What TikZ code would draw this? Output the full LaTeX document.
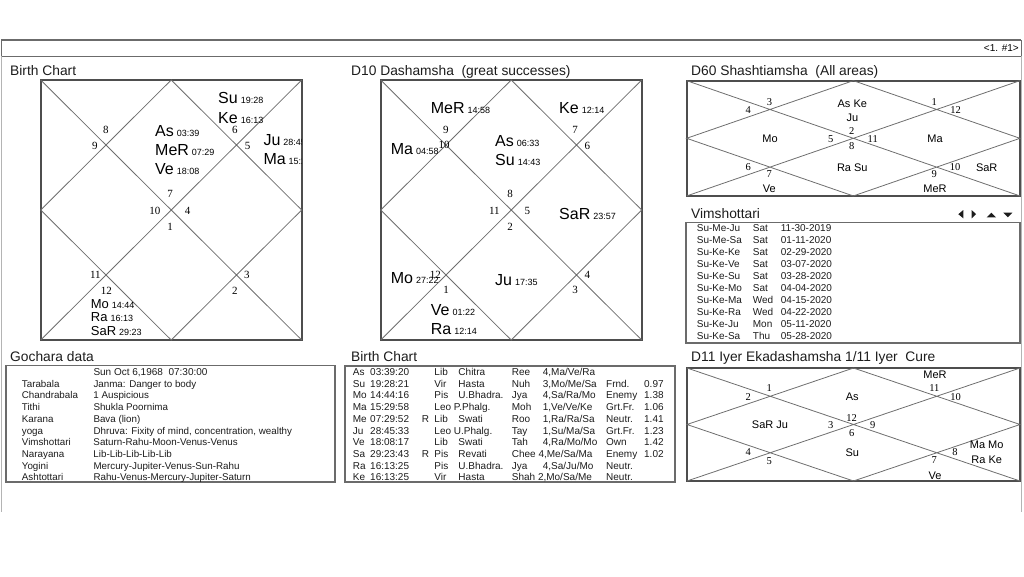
\documentclass[tikz,border=0pt]{standalone}
\usepackage{fontspec}
\setmainfont{Liberation Sans}
\newfontfamily\housefont{Liberation Serif}
\usetikzlibrary{positioning}
\definecolor{KLine}{HTML}{6E6E6E}
\definecolor{KFrame}{HTML}{4E4E4E}
\definecolor{KBox}{HTML}{6B6B6B}
\definecolor{KText}{HTML}{1C1C1C}
\definecolor{KEdge}{HTML}{B4B4B4}
% planet with degree in small figures
\newcommand{\planet}[3][16]{{\fontsize{#1}{#1}\selectfont #2}\hspace{3pt}{\fontsize{9}{9}\selectfont #3}}
% table rows with fixed columns
\newcommand{\gline}[2]{\makebox[71.6pt][l]{#1}#2}
\newcommand{\vrow}[3]{\makebox[56pt][l]{#1}\makebox[28pt][l]{#2}#3}
\newcommand{\brow}[9]{\makebox[17.3pt][l]{#1}\makebox[51.7pt][l]{#2}\makebox[12.6pt][l]{#3}\makebox[24pt][l]{#4}\makebox[53.4pt][l]{#5}\makebox[31pt][l]{#6}\makebox[63.3pt][l]{#7}\makebox[38pt][l]{#8}#9}

\begin{document}
\begin{tikzpicture}[x=1pt,y=-1pt,
 hdr/.style={anchor=base west,inner sep=0pt,text=KText,font=\fontsize{13.8}{15}\selectfont},
 kundli/.style={draw=KFrame,line width=2pt,inner sep=0pt,outer sep=0pt},
 kline/.style={draw=KLine,line width=0.8pt},
 hnum/.style={inner sep=0pt,font=\housefont\fontsize{11}{11}\selectfont},
 hsml/.style={inner sep=0pt,font=\housefont\fontsize{10.5}{10.5}\selectfont},
 graha/.style={anchor=west,inner sep=0pt,text depth=0pt},
 gsml/.style={inner sep=0pt,text depth=0pt,font=\fontsize{11}{11}\selectfont},
 tbox/.style={draw=KBox,line width=1.2pt,inner sep=0pt,outer sep=0pt,anchor=north west},
 trow/.style={anchor=base west,inner sep=0pt,text=KText,font=\fontsize{10}{10}\selectfont}
]
\useasboundingbox (0,0) rectangle (1024,576);

% top strip
\node[draw=KBox,line width=0.8pt,inner sep=0pt,outer sep=0pt,anchor=north west,minimum width=1020pt,minimum height=16pt] (strip) at (1,40) {};
\draw[KBox,line width=1.6pt] (strip.north west) -- (strip.north east);
\node[anchor=east,inner sep=0pt,font=\fontsize{10}{10}\selectfont] (page) at ([xshift=-2pt]strip.east) {<1. \#1>};
\draw[KEdge,line width=0.8pt] (strip.south west) -- ++(0,456) (strip.south east) -- ++(0,456);

% titles
\node[hdr] (tRasi) at (10,75) {Birth Chart};
\node[hdr] (tDasa) at (351,75) {D10 Dashamsha\ \ (great successes)};
\node[hdr] (tShas) at (691,75) {D60 Shashtiamsha\ \ (All areas)};
\node[hdr] (tVim) at (691,218.3) {Vimshottari};
\node[hdr] (tGoc) at (10,361) {Gochara data};
\node[hdr] (tTab) at (351,361) {Birth Chart};
\node[hdr] (tEka) at (691,361) {D11 Iyer Ekadashamsha 1/11 Iyer\ \ Cure};

% birth chart
\node[kundli,minimum width=261pt,minimum height=260pt] (rasi) at (171.2,210) {};
\draw[kline] (rasi.north west) -- (rasi.south east) (rasi.north east) -- (rasi.south west)
  (rasi.north) -- (rasi.east) -- (rasi.south) -- (rasi.west) -- cycle;
\begin{scope}
\clip (rasi.north west) rectangle (rasi.south east);
\foreach \g/\d/\x/\y/\s in {Su/19:28/218/97.7/16, Ke/16:13/218/117.7/16, As/03:39/155/130.7/16,
  MeR/07:29/155/150/16, Ve/18:08/155/169.3/16, Ju/28:45/263.3/140/16, Ma/15:29/263.3/159.3/16,
  Mo/14:44/90.7/304/13, Ra/16:13/90.7/317.3/13, SaR/29:23/90.7/330.7/13}
  \node[graha] (rasi\g) at (\x,\y) {\planet[\s]{\g}{\d}};
\end{scope}
\foreach \n/\x/\y in {8/105.8/130.3, 9/94.8/146.3, 6/234.8/130, 5/247.5/146, 7/170.2/194,
  10/154.8/210.7, 4/187.5/210.7, 1/170/226.7, 11/95.3/275, 3/246.8/275, 12/106.3/290.7, 2/234.8/290.7}
  \node[hnum] (rasiH\n) at (\x,\y) {\n};

% D10
\node[kundli,minimum width=261pt,minimum height=260pt] (dasa) at (511.2,210) {};
\draw[kline] (dasa.north west) -- (dasa.south east) (dasa.north east) -- (dasa.south west)
  (dasa.north) -- (dasa.east) -- (dasa.south) -- (dasa.west) -- cycle;
\foreach \g/\d/\x/\y in {MeR/14:58/430.7/108.3, Ke/12:14/559/108.3, Ma/04:58/390.7/149.3,
  As/06:33/495/140.7, Su/14:43/495/160, SaR/23:57/559/214, Mo/27:22/390.7/278.3,
  Ju/17:35/495/280, Ve/01:22/430.7/310, Ra/12:14/430.7/329.3}
  \node[graha] (dasa\g) at (\x,\y) {\planet{\g}{\d}};
\foreach \n/\x/\y in {9/445.8/130, 7/575/130, 10/444/145, 6/587.3/146, 8/510/194, 11/494.3/210.7,
  5/527.3/210.7, 2/510/226.7, 12/435.3/275, 4/587.3/275, 1/446/290, 3/575/290}
  \node[hnum] (dasaH\n) at (\x,\y) {\n};

% D60
\node[kundli,minimum width=333.3pt,minimum height=115.3pt] (shas) at (853.3,138.3) {};
\draw[kline] (shas.north west) -- (shas.south east) (shas.north east) -- (shas.south west)
  (shas.north) -- (shas.east) -- (shas.south) -- (shas.west) -- cycle;
\node[gsml] (shasAs) at (852.3,103.3) {As Ke};
\node[gsml] (shasJu) at (852.3,117.3) {Ju};
\node[gsml] (shasMo) at (770,139) {Mo};
\node[gsml] (shasMa) at (935,139) {Ma};
\node[gsml] (shasRa) at (852.3,167.3) {Ra Su};
\node[gsml] (shasSa) at (986.7,167.3) {SaR};
\node[gsml] (shasVe) at (769.3,189) {Ve};
\node[gsml] (shasMe) at (935,189) {MeR};
\foreach \n/\x/\y in {3/769.5/101.7, 4/748.3/110, 1/934.3/101.7, 12/955.5/110, 2/851.7/130.7,
  5/830.7/139, 11/872.7/139, 8/851.7/146, 6/748.3/167.3, 7/769.3/174, 10/955/167.3, 9/934.3/174}
  \node[hsml] (shasH\n) at (\x,\y) {\n};

% Vimshottari
\fill[KText] (958.3,214.2) -- (963.3,210) -- (963.3,218.3) -- cycle
  (971.7,210) -- (976,214.2) -- (971.7,218.3) -- cycle
  (986.7,217.3) -- (991.3,212.7) -- (996,217.3) -- cycle
  (1003.3,212.7) -- (1012.3,212.7) -- (1007.8,217.3) -- cycle;
\node[tbox,minimum width=334pt,minimum height=120.3pt] (vim) at (686,222.7) {};
\foreach \a/\b/\c [count=\i] in {Su-Me-Ju/Sat/11-30-2019, Su-Me-Sa/Sat/01-11-2020, Su-Ke-Ke/Sat/02-29-2020,
  Su-Ke-Ve/Sat/03-07-2020, Su-Ke-Su/Sat/03-28-2020, Su-Ke-Mo/Sat/04-04-2020, Su-Ke-Ma/Wed/04-15-2020,
  Su-Ke-Ra/Wed/04-22-2020, Su-Ke-Ju/Mon/05-11-2020, Su-Ke-Sa/Thu/05-28-2020}
  \node[trow] (vim\i) at (696.7,{219.7+11.96*\i}) {\vrow{\a}{\b}{\c}};

% Gochara data
\node[tbox,minimum width=329pt,minimum height=116.3pt] (goc) at (6,365.7) {};
\node[trow] (goc0) at (21.7,375.5) {\gline{}{Sun Oct 6,1968\ \ 07:30:00}};
\foreach \a/\b [count=\i] in {Tarabala/{Janma: Danger to body}, Chandrabala/{1 Auspicious},
  Tithi/{Shukla Poornima}, Karana/{Bava (lion)}, yoga/{Dhruva: Fixity of mind, concentration, wealthy},
  Vimshottari/{Saturn-Rahu-Moon-Venus-Venus}, Narayana/{Lib-Lib-Lib-Lib-Lib},
  Yogini/{Mercury-Jupiter-Venus-Sun-Rahu}, Ashtottari/{Rahu-Venus-Mercury-Jupiter-Saturn}}
  \node[trow,font=\fontsize{9.8}{10}\selectfont] (goc\i) at (21.7,{375.5+11.7*\i}) {\gline{\a}{\b}};

% Birth chart table
\node[tbox,minimum width=330pt,minimum height=116pt] (tab) at (345,366) {};
\node[trow] (tab1) at (352.7,375.5) {\brow{As}{03:39:20}{}{Lib}{Chitra}{Ree}{4,Ma/Ve/Ra}{}{}};
\node[trow] (tab2) at (352.7,387.2) {\brow{Su}{19:28:21}{}{Vir}{Hasta}{Nuh}{3,Mo/Me/Sa}{Frnd.}{0.97}};
\node[trow] (tab3) at (352.7,398.9) {\brow{Mo}{14:44:16}{}{Pis}{U.Bhadra.}{Jya}{4,Sa/Ra/Mo}{Enemy}{1.38}};
\node[trow] (tab4) at (352.7,410.6) {\brow{Ma}{15:29:58}{}{Leo P.Phalg.}{}{Moh}{1,Ve/Ve/Ke}{Grt.Fr.}{1.06}};
\node[trow] (tab5) at (352.7,422.3) {\brow{Me}{07:29:52}{R}{Lib}{Swati}{Roo}{1,Ra/Ra/Sa}{Neutr.}{1.41}};
\node[trow] (tab6) at (352.7,434.0) {\brow{Ju}{28:45:33}{}{Leo U.Phalg.}{}{Tay}{1,Su/Ma/Sa}{Grt.Fr.}{1.23}};
\node[trow] (tab7) at (352.7,445.7) {\brow{Ve}{18:08:17}{}{Lib}{Swati}{Tah}{4,Ra/Mo/Mo}{Own}{1.42}};
\node[trow] (tab8) at (352.7,457.4) {\brow{Sa}{29:23:43}{R}{Pis}{Revati}{Chee 4,Me/Sa/Ma}{}{Enemy}{1.02}};
\node[trow] (tab9) at (352.7,469.1) {\brow{Ra}{16:13:25}{}{Pis}{U.Bhadra.}{Jya}{4,Sa/Ju/Mo}{Neutr.}{}};
\node[trow] (tab10) at (352.7,480.8) {\brow{Ke}{16:13:25}{}{Vir}{Hasta}{Shah 2,Mo/Sa/Me}{}{Neutr.}{}};

% D11
\node[kundli,minimum width=333pt,minimum height=113pt] (eka) at (853.5,424.5) {};
\draw[kline] (eka.north west) -- (eka.south east) (eka.north east) -- (eka.south west)
  (eka.north) -- (eka.east) -- (eka.south) -- (eka.west) -- cycle;
\node[gsml] (ekaMe) at (935,375) {MeR};
\node[gsml] (ekaAs) at (852.3,396.7) {As};
\node[gsml] (ekaSa) at (770,425) {SaR Ju};
\node[gsml] (ekaSu) at (852.3,452.3) {Su};
\node[gsml] (ekaMa) at (986.7,445) {Ma Mo};
\node[gsml] (ekaRa) at (986.7,460) {Ra Ke};
\node[gsml] (ekaVe) at (935,475.7) {Ve};
\foreach \n/\x/\y in {1/769.3/387.7, 2/748.3/396.7, 11/934.3/387.7, 10/955.7/396.7, 12/851.7/417.7,
  3/830.7/425, 9/872.7/425, 6/851.7/433.3, 4/748.3/452.3, 5/769.3/461, 8/955/452.3, 7/934.3/460}
  \node[hsml] (ekaH\n) at (\x,\y) {\n};
\end{tikzpicture}
\end{document}
